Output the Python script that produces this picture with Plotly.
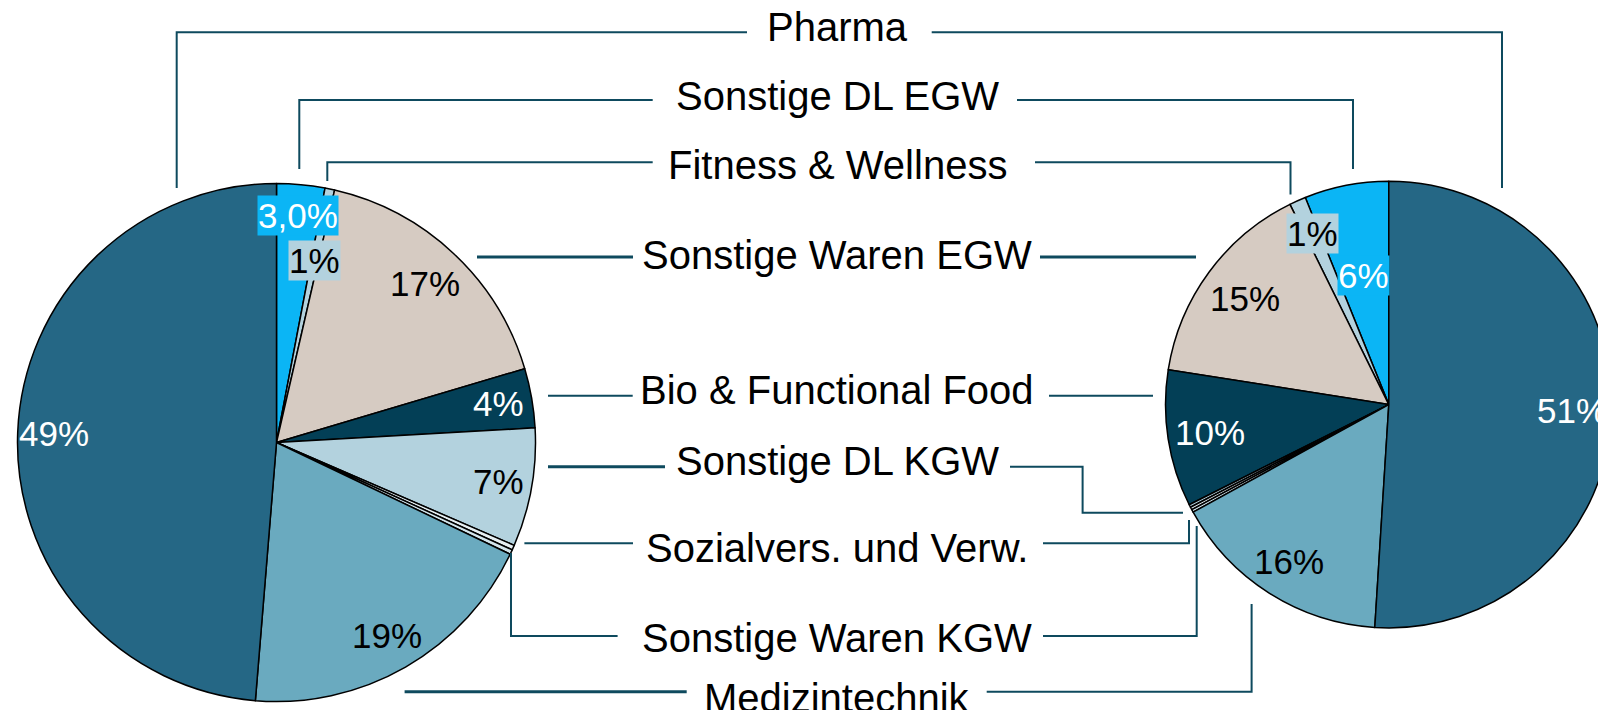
import math
import plotly.graph_objects as go

W, H = 1606, 710
# the page puts the figure 8px in from the top-left corner
OFF = 8

# slice order as drawn, starting at 12 o'clock
categories = ["Sonstige DL EGW", "Fitness & Wellness", "Sonstige Waren EGW",
              "Bio & Functional Food", "Sonstige DL KGW", "Sozialvers. und Verw.",
              "Sonstige Waren KGW", "Medizintechnik", "Pharma"]
left_values = [3.0, 0.6, 16.8, 3.7, 7.4, 0.3, 0.3, 19.2, 48.7]
left_text = ["3,0%", "1%", "17%", "4%", "7%", "", "", "19%", "49%"]
right_values = [6.1, 1.2, 15.2, 9.9, 0.2, 0.2, 0.2, 16.0, 51.0]
right_text = ["6%", "1%", "15%", "10%", "", "", "", "16%", "51%"]

# label order in the middle column, top to bottom
middle_labels = ["Pharma", "Sonstige DL EGW", "Fitness & Wellness", "Sonstige Waren EGW",
                 "Bio & Functional Food", "Sonstige DL KGW", "Sozialvers. und Verw.",
                 "Sonstige Waren KGW", "Medizintechnik"]

colors = ["#0BB5F5", "#B3D2DE", "#D6CBC2", "#033F56", "#B3D2DE",
          "#E6EFF2", "#D3E5EC", "#6AAABF", "#256785"]
text_colors = ["white", "black", "black", "white", "black", "black", "black", "black", "white"]
boxed = {"Sonstige DL EGW", "Fitness & Wellness"}
line_color = "#0E4A5E"
font = "Liberation Sans, Arial, sans-serif"

# how far out (fraction of radius) each percentage sits
left_rfrac = [0.88, 0.72, 0.84, 0.87, 0.87, 0, 0, 0.86, 0.86]
right_rfrac = [0.59, 0.84, 0.80, 0.81, 0, 0, 0, 0.83, 0.82]


def px(x):
    return (x - OFF) / W


def py(y):
    return 1 - (y - OFF) / H


def domain(cx, cy, r):
    return dict(x=[px(cx - r), min(px(cx + r), 1.0)], y=[py(cy + r), py(cy - r)])


left_dom = domain(276.5, 442.5, 259)
right_dom = domain(1388.8, 404.6, 223.3)


def pie_geom(dom):
    w = (dom["x"][1] - dom["x"][0]) * W
    h = (dom["y"][1] - dom["y"][0]) * H
    cx = (dom["x"][0] + dom["x"][1]) / 2 * W + OFF
    cy = H - (dom["y"][0] + dom["y"][1]) / 2 * H + OFF
    return cx, cy, min(w, h) / 2


def pct_annotations(values, texts, fracs, dom, clockwise):
    cx, cy, r = pie_geom(dom)
    total = sum(values)
    cum = 0
    out = []
    for i, v in enumerate(values):
        mid = (cum + v / 2) / total * 2 * math.pi
        cum += v
        if not texts[i]:
            continue
        sign = 1 if clockwise else -1
        x = cx + sign * fracs[i] * r * math.sin(mid)
        y = cy - fracs[i] * r * math.cos(mid)
        ann = dict(x=px(x), y=py(y), xref="paper", yref="paper", text=texts[i],
                   showarrow=False, xanchor="center", yanchor="middle",
                   font=dict(family=font, size=35, color=text_colors[i]))
        if categories[i] in boxed:
            ann["bgcolor"] = colors[i]
            ann["borderpad"] = 0
        out.append(ann)
    return out


fig = go.Figure()
fig.add_trace(go.Pie(labels=categories, values=left_values, sort=False, direction="clockwise",
                     rotation=0, domain=left_dom, textinfo="none", showlegend=False,
                     marker=dict(colors=colors, line=dict(color="black", width=1.5))))
# plotly starts a counterclockwise pie one slice late, so turn it back
fig.add_trace(go.Pie(labels=categories, values=right_values, sort=False,
                     direction="counterclockwise",
                     rotation=-right_values[0] / sum(right_values) * 360,
                     domain=right_dom, textinfo="none", showlegend=False,
                     marker=dict(colors=colors, line=dict(color="black", width=1.5))))

annotations = pct_annotations(left_values, left_text, left_rfrac, left_dom, True)
annotations += pct_annotations(right_values, right_text, right_rfrac, right_dom, False)

# middle column labels (pixel y of text centre)
label_y = [27, 96, 164.5, 254.5, 390, 461, 548, 638, 697.5]
for name, y in zip(middle_labels, label_y):
    annotations.append(dict(x=px(837.5), y=py(y), xref="paper", yref="paper", text=name,
                            showarrow=False, xanchor="center", yanchor="middle",
                            font=dict(family=font, size=40, color="black")))

# leader lines (pixel coordinates), with line width
connectors = [
    ([(176.7, 188), (176.7, 32.3), (747, 32.3)], 2),
    ([(931.7, 32.3), (1502, 32.3), (1502, 188)], 2),
    ([(299.3, 169), (299.3, 100), (652.7, 100)], 2),
    ([(1017, 100), (1353, 100), (1353, 169)], 2),
    ([(327.3, 181), (327.3, 162.3), (652.7, 162.3)], 2),
    ([(1035, 162.3), (1290.5, 162.3), (1290.5, 194.6)], 2),
    ([(477, 257), (633, 257)], 3),
    ([(1040, 257), (1196, 257)], 3),
    ([(548, 395.7), (632.7, 395.7)], 2),
    ([(1049, 395.7), (1153, 395.7)], 2),
    ([(548, 466.7), (665, 466.7)], 3),
    ([(1010, 466.7), (1082.6, 466.7), (1082.6, 512.7), (1183, 512.7)], 2),
    ([(524.4, 543.3), (633, 543.3)], 2),
    ([(1043, 543.3), (1189, 543.3), (1189, 520)], 2),
    ([(511, 553), (511, 636), (617.6, 636)], 2),
    ([(1043, 636), (1196.7, 636), (1196.7, 526)], 2),
    ([(404.6, 691.7), (686.7, 691.7)], 3),
    ([(986.7, 691.7), (1251.6, 691.7), (1251.6, 604)], 2),
]
shapes = []
for pts, lw in connectors:
    path = "M " + " L ".join(f"{px(x):.5f},{py(y):.5f}" for x, y in pts)
    shapes.append(dict(type="path", path=path, xref="paper", yref="paper",
                       line=dict(color=line_color, width=lw)))

fig.update_layout(
    width=W, height=H,
    margin=dict(l=0, r=0, t=0, b=0),
    paper_bgcolor="white",
    plot_bgcolor="white",
    font=dict(family=font),
    annotations=annotations,
    shapes=shapes,
)

fig.write_html("out.html")
